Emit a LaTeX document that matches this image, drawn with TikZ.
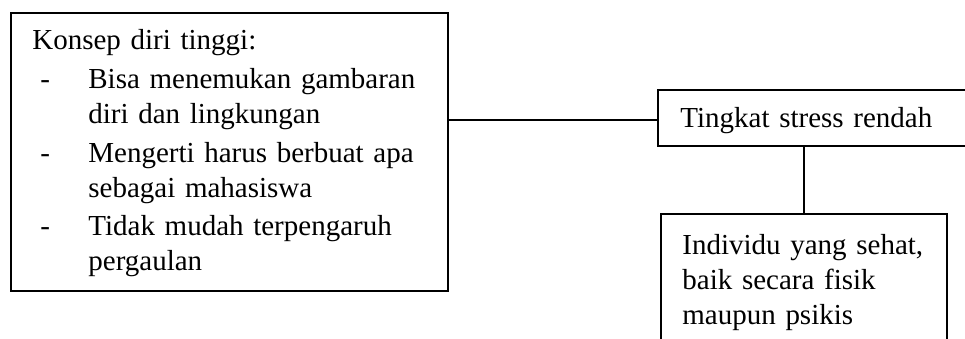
\documentclass[tikz,border=0pt]{standalone}
\usepackage{fontspec}
\setmainfont{Liberation Serif}

\begin{document}
\begin{tikzpicture}
		[
			x=0.5pt, y=-0.5pt,
			box/.style={draw, line width=1pt, anchor=north west, inner sep=0pt},
			txt/.style={anchor=base west, inner sep=0pt, text width=175pt, align=left,
				font=\fontsize{14.5}{17.5}\selectfont},
			link/.style={line width=1pt},
		]

		\useasboundingbox (0,0) rectangle (965,338);
		\clip (0,0) rectangle (965,338);

		% Boxes
		\node[box, minimum width=218.25pt, minimum height=139.15pt] (konsep) at (10,11.7) {};
		\node[box, minimum width=162pt, minimum height=28pt] (stress) at (657,89) {};
		\node[box, minimum width=143pt, minimum height=75pt] (hasil) at (660,213) {};

		% Texts
		\node[txt] (judul) at (32,49) {Konsep diri tinggi:};
		\foreach \name/\y/\isi in
		{
			satu/88/{Bisa menemukan gambaran\\diri dan lingkungan},
			dua/162/{Mengerti harus berbuat apa\\sebagai mahasiswa},
			tiga/235/{Tidak mudah terpengaruh\\pergaulan}
		}
		{
			\node[txt, text width=10pt] (strip\name) at (40,\y) {-};
			\node[txt] (\name) at (88,\y) {\isi};
		}
		\node[txt] (stresstext) at (680,127) {Tingkat stress rendah};
		\node[txt] (hasiltext) at (682,254) {Individu yang sehat,\\baik secara fisik\\maupun psikis};

		% Links
		\coordinate (stressin) at ([yshift=-1pt]stress.west);
		\draw[link] (stressin -| konsep.east) -- (stressin);
		\draw[link] (hasil.north) -- (hasil.north |- stress.south);

		\end{tikzpicture}
\end{document}
